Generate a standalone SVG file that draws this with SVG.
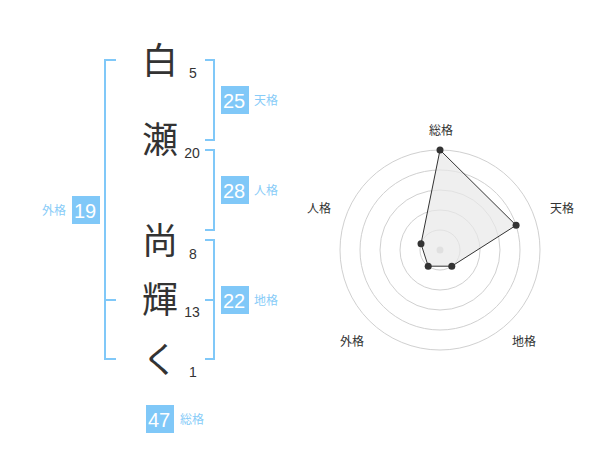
<svg xmlns="http://www.w3.org/2000/svg" width="600" height="470" viewBox="0 0 600 470">
<style>
.ch{font-family:"Noto Sans CJK JP","Noto Sans CJK SC",sans-serif;font-size:36px;fill:#333;text-anchor:middle}
.num{font-family:"Liberation Sans",Arial,sans-serif;font-size:14px;fill:#333;text-anchor:middle}
.br{fill:none;stroke:#80c8f8;stroke-width:2}
.box{fill:#80c8f8}
.bn{font-family:"Liberation Sans",Arial,sans-serif;font-size:20px;fill:#fff;text-anchor:middle}
.bl{font-family:"Noto Sans CJK JP","Noto Sans CJK SC",sans-serif;font-size:12px;fill:#88ccf8}
.ring{fill:none;stroke:#d0d0d0;stroke-width:1}
.rl{font-family:"Noto Sans CJK JP","Noto Sans CJK SC",sans-serif;font-size:12px;fill:#333;text-anchor:middle}
.pt{fill:#333}
</style>
<rect width="600" height="470" fill="#fff"/>
<g id="chars">
<g id="c1"><text class="ch" x="160" y="74">白</text><text class="num" x="193" y="78">5</text></g>
<g id="c2"><text class="ch" x="160" y="153">瀬</text><text class="num" x="192" y="158">20</text></g>
<g id="c3"><text class="ch" x="160" y="254">尚</text><text class="num" x="193" y="259">8</text></g>
<g id="c4"><text class="ch" x="160" y="313">輝</text><text class="num" x="192" y="317">13</text></g>
<g id="c5"><text class="ch" x="160" y="373">く</text><text class="num" x="193" y="377">1</text></g>
</g>
<g id="connectors">
<path class="br" d="M116,60 H105 V359 H116 M105,300 H116"/>
<path class="br" d="M205,60 H214 V140 H205"/>
<path class="br" d="M205,150 H214 V230 H205"/>
<path class="br" d="M205,240 H214 V359 H205 M205,300 H214"/>
</g>
<g id="tenkaku"><rect class="box" x="221" y="86" width="28" height="28"/><text class="bn" x="234" y="107.5">25</text><text class="bl" x="254" y="105">天格</text></g>
<g id="jinkaku"><rect class="box" x="221" y="176" width="28" height="28"/><text class="bn" x="234" y="197.5">28</text><text class="bl" x="254" y="195">人格</text></g>
<g id="chikaku"><rect class="box" x="221" y="286" width="28" height="28"/><text class="bn" x="234" y="307.5">22</text><text class="bl" x="254" y="305">地格</text></g>
<g id="gaikaku"><rect class="box" x="72" y="196" width="28" height="28"/><text class="bn" x="85" y="217.5">19</text><text class="bl" x="66" y="215" text-anchor="end">外格</text></g>
<g id="soukaku"><rect class="box" x="146" y="405" width="28" height="28"/><text class="bn" x="159" y="426.5">47</text><text class="bl" x="180" y="424">総格</text></g>
<g id="radar">
<circle class="ring" cx="440" cy="250" r="20"/>
<circle class="ring" cx="440" cy="250" r="40"/>
<circle class="ring" cx="440" cy="250" r="60"/>
<circle class="ring" cx="440" cy="250" r="80"/>
<circle class="ring" cx="440" cy="250" r="100"/>
<circle cx="440" cy="250" r="3.5" fill="#ccc"/>
<polygon points="440,150 516.1,225.3 451.8,266.2 428.2,266.2 421,243.8" fill="#e8e8e8" fill-opacity="0.7" stroke="#333" stroke-width="1"/>
<circle class="pt" cx="440" cy="150" r="3.5"/>
<circle class="pt" cx="516.1" cy="225.3" r="3.5"/>
<circle class="pt" cx="451.8" cy="266.2" r="3.5"/>
<circle class="pt" cx="428.2" cy="266.2" r="3.5"/>
<circle class="pt" cx="421" cy="243.8" r="3.5"/>
<text class="rl" x="441" y="135">総格</text>
<text class="rl" x="562" y="213">天格</text>
<text class="rl" x="524" y="346">地格</text>
<text class="rl" x="352" y="346">外格</text>
<text class="rl" x="319" y="213">人格</text>
</g>
</svg>
